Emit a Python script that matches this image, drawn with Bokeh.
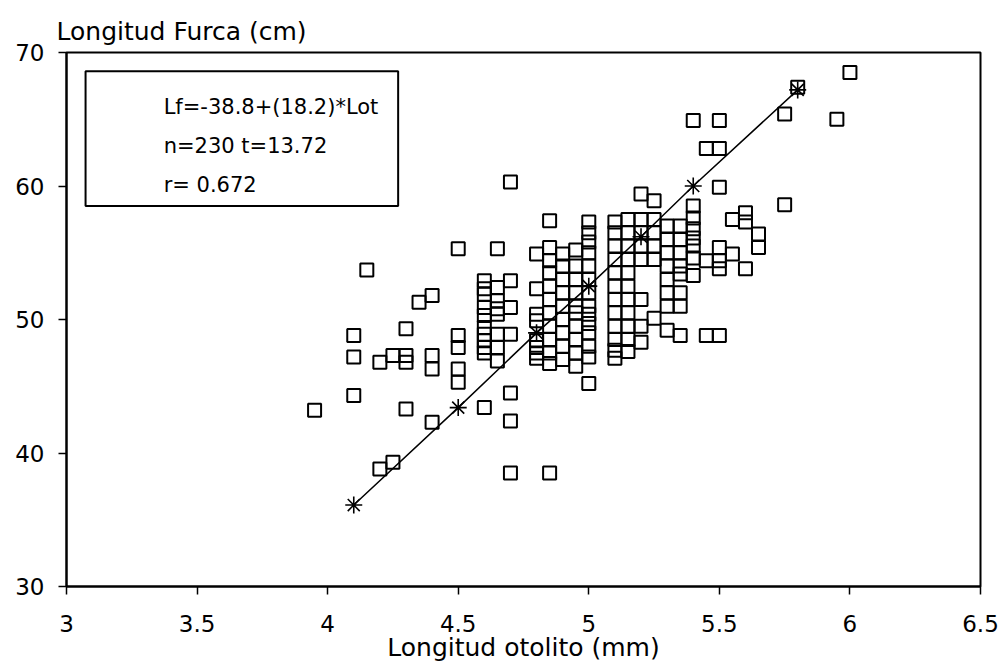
from bokeh.plotting import figure
from bokeh.models import FixedTicker, Range1d, BoxAnnotation, Label
from bokeh.embed import file_html
from bokeh.resources import INLINE

# ---- data ----
otolito = (
    [3.95] + [4.10] * 3 + [4.15] + [4.20] * 2 + [4.25] * 2 + [4.30] * 4 + [4.35]
    + [4.40] * 4 + [4.50] * 5 + [4.60] * 11 + [4.65] * 8 + [4.70] * 7
    + [4.80] * 8 + [4.85] * 12 + [4.90] * 9 + [4.95] * 10 + [5.00] * 14
    + [5.10] * 12 + [5.15] * 11 + [5.20] * 8 + [5.25] * 6 + [5.30] * 8
    + [5.35] * 8 + [5.40] * 8 + [5.45] * 3 + [5.50] * 7 + [5.55] * 2
    + [5.60] * 3 + [5.65] * 2 + [5.75] * 2 + [5.80] + [5.95] + [6.00]
)
furca = [
    43.2,
    48.8, 47.2, 44.3,
    53.7,
    46.8, 38.8,
    47.3, 39.3,
    49.3, 47.3, 46.8, 43.3,
    51.3,
    51.8, 47.3, 46.3, 42.3,
    55.3, 48.8, 47.9, 46.3, 45.3,
    52.9, 52.3, 51.9, 50.9, 50.3, 49.4, 48.9, 48.4, 47.9, 47.5, 43.4,
    55.3, 52.4, 51.4, 50.8, 50.4, 48.9, 47.9, 46.9,
    60.3, 52.9, 50.9, 48.9, 44.5, 42.4, 38.5,
    54.9, 52.3, 50.4, 49.9, 48.4, 47.9, 47.5, 47.1,
    57.4, 55.4, 54.4, 53.5, 52.5, 51.5, 50.5, 49.5, 48.5, 47.5, 46.7, 38.5,
    54.9, 54.0, 53.0, 52.0, 51.0, 50.0, 49.0, 48.0, 47.0,
    55.2, 54.0, 53.0, 52.0, 51.0, 50.5, 49.5, 48.5, 47.5, 46.5,
    57.3, 56.5, 55.8, 55.0, 54.0, 53.0, 52.0, 51.0, 50.4, 49.7, 49.0, 48.0, 47.2, 45.2,
    57.3, 56.5, 55.5, 54.5, 53.5, 52.5, 51.5, 50.5, 49.5, 48.5, 47.7, 47.1,
    57.5, 56.5, 55.5, 54.5, 53.5, 52.5, 51.5, 50.5, 49.5, 48.5, 47.6,
    59.4, 57.5, 56.5, 55.5, 54.5, 51.5, 49.5, 48.3,
    58.9, 57.5, 56.5, 55.5, 54.5, 50.1,
    57.0, 56.0, 55.0, 54.0, 53.0, 52.0, 51.0, 49.2,
    57.0, 56.0, 55.0, 54.0, 53.4, 52.0, 51.0, 48.8,
    64.9, 58.5, 57.6, 56.8, 56.1, 55.5, 54.6, 53.3,
    62.8, 54.4, 48.8,
    64.9, 62.8, 59.9, 55.4, 54.4, 53.8, 48.8,
    57.5, 54.9,
    58.0, 57.3, 53.8,
    56.4, 55.4,
    65.4, 58.6,
    67.4,
    65.0,
    68.5,
]

# regression line points (stars)
reg_x = [4.1, 4.5, 4.8, 5.0, 5.2, 5.4, 5.8]
reg_y = [36.1, 43.4, 49.0, 52.5, 56.2, 60.0, 67.2]

x_ticks = [3, 3.5, 4, 4.5, 5, 5.5, 6, 6.5]
x_tick_labels = ["3", "3.5", "4", "4.5", "5", "5.5", "6", "6.5"]
y_ticks = [30, 40, 50, 60, 70]
y_tick_labels = ["30", "40", "50", "60", "70"]

box_lines = ["Lf=-38.8+(18.2)*Lot", "n=230   t=13.72", "r= 0.672"]

FONT = "DejaVu Sans"

p = figure(
    width=1004, height=664, output_backend="svg", toolbar_location=None,
    x_range=Range1d(3, 6.5), y_range=Range1d(30, 70),
    min_border_left=66, min_border_right=24, min_border_top=52, min_border_bottom=78,
)
p.background_fill_color = "white"
p.border_fill_color = "white"
p.grid.visible = False
p.outline_line_color = "black"
p.outline_line_width = 2

p.title.text = "Longitud Furca (cm)"
p.title.align = "left"
p.title.text_font = FONT
p.title.text_font_size = "25px"
p.title.text_font_style = "normal"
p.title.text_color = "black"
p.title.offset = -10
p.title.standoff = 14

for ax in (p.xaxis[0], p.yaxis[0]):
    ax.axis_line_color = "black"
    ax.axis_line_width = 2
    ax.major_tick_line_color = "black"
    ax.major_tick_line_width = 1.5
    ax.major_tick_out = 8
    ax.major_tick_in = 0
    ax.minor_tick_line_color = None
    ax.major_label_text_font = FONT
    ax.major_label_text_font_size = "23px"
    ax.major_label_text_color = "black"

p.xaxis.ticker = FixedTicker(ticks=x_ticks)
p.xaxis.major_label_overrides = {t: l for t, l in zip(x_ticks, x_tick_labels)}
p.xaxis.major_label_standoff = 20
p.xaxis.axis_label = "Longitud otolito (mm)"
p.xaxis.axis_label_text_font = FONT
p.xaxis.axis_label_text_font_size = "25px"
p.xaxis.axis_label_text_font_style = "normal"
p.xaxis.axis_label_text_color = "black"
p.xaxis.axis_label_standoff = -2

p.yaxis.ticker = FixedTicker(ticks=y_ticks)
p.yaxis.major_label_overrides = {t: l for t, l in zip(y_ticks, y_tick_labels)}
p.yaxis.major_label_standoff = 14

# scatter squares
p.scatter(otolito, furca, marker="square", size=13, fill_alpha=0,
          line_color="black", line_width=2)

# regression line with stars
p.line(reg_x, reg_y, line_color="black", line_width=1.5)
p.scatter(reg_x, reg_y, marker="asterisk", size=17, line_color="black", line_width=1.6)

# equation box
p.add_layout(BoxAnnotation(left=3.073, right=4.27, top=68.6, bottom=58.5,
                           fill_alpha=0, line_color="black", line_alpha=1.0,
                           line_width=2))
for i, txt in enumerate(box_lines):
    p.add_layout(Label(x=3.372, y=65.95 - i * 2.95, text=txt, text_font=FONT,
                       text_font_size="21px", text_color="black",
                       text_baseline="middle"))

open("out.html", "w").write(file_html(p, INLINE))
